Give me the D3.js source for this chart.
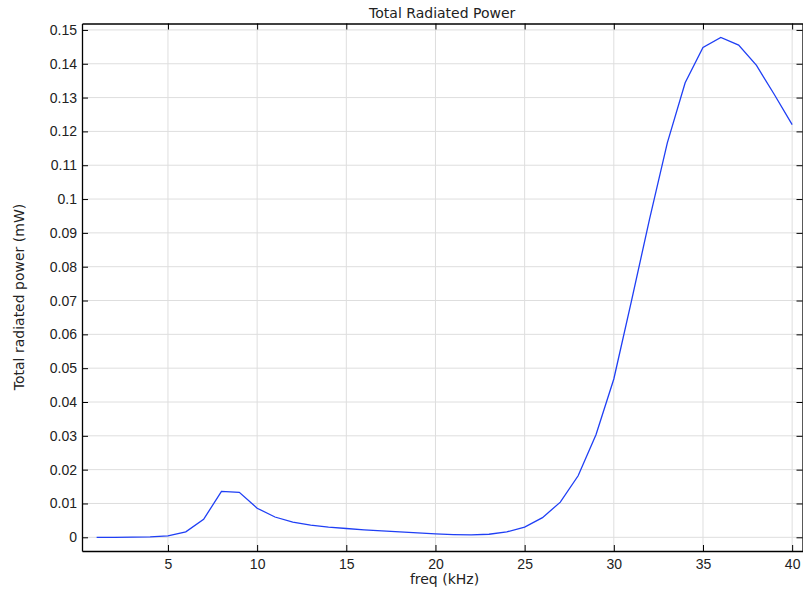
<!DOCTYPE html>
<html>
<head>
<meta charset="utf-8">
<script src="https://cdn.jsdelivr.net/npm/d3@7"></script>
<style>
	body { margin: 0; background: #fff; }
	svg { font-family: "DejaVu Sans", sans-serif; }
</style>
</head>
<body>
<div id="chart"></div>
<script>
const freq = [1, 2, 3, 4, 5, 6, 7, 8, 9, 10, 11, 12, 13, 14, 15, 16, 17, 18, 19, 20,
	21, 22, 23, 24, 25, 26, 27, 28, 29, 30, 31, 32, 33, 34, 35, 36, 37, 38, 39, 40];
const power = [0, 0, 0.00005, 0.0001, 0.0004, 0.0016, 0.0053, 0.0136, 0.0133, 0.0086,
	0.006, 0.0045, 0.0036, 0.003, 0.0026, 0.0022, 0.0019, 0.0016, 0.0013, 0.001,
	0.0008, 0.0007, 0.0009, 0.0016, 0.003, 0.0058, 0.0104, 0.0182, 0.0303, 0.0468,
	0.0701, 0.094, 0.1166, 0.1344, 0.1448, 0.1478, 0.1455, 0.1395, 0.1309, 0.122];
const xTicks = [5, 10, 15, 20, 25, 30, 35, 40];
const yTicks = [0, 0.01, 0.02, 0.03, 0.04, 0.05, 0.06, 0.07, 0.08, 0.09, 0.1,
	0.11, 0.12, 0.13, 0.14, 0.15];

let width = 803, height = 589;
let mLeft = 82, mRight = 802.5, mTop = 23.5, mBottom = 551;

let svg = d3.select('#chart')
	.append('svg')
	.attr('width', width)
	.attr('height', height);

let x = d3.scaleLinear().domain([0.18, 40.58]).range([mLeft, mRight]);
let y = d3.scaleLinear().domain([-0.00405, 0.1519]).range([mBottom, mTop]);

// grid
svg.append('g')
	.selectAll('line')
	.data(xTicks)
	.enter()
	.append('line')
	.attr('x1', d => x(d)).attr('x2', d => x(d))
	.attr('y1', mTop).attr('y2', mBottom)
	.attr('stroke', '#dedede');

svg.append('g')
	.selectAll('line')
	.data(yTicks)
	.enter()
	.append('line')
	.attr('x1', mLeft).attr('x2', mRight)
	.attr('y1', d => y(d)).attr('y2', d => y(d))
	.attr('stroke', '#dedede');

// line
let line = d3.line()
	.x((d, i) => x(freq[i]))
	.y(d => y(d));

svg.append('path')
	.datum(power)
	.attr('d', line)
	.attr('fill', 'none')
	.attr('stroke', '#1f3ff5')
	.attr('stroke-width', 1.3);

// axes with inward ticks
let fmt = d => String(+d.toFixed(2));

svg.append('g')
	.attr('transform', 'translate(0,' + mBottom + ')')
	.call(d3.axisBottom(x).tickValues(xTicks).tickSizeInner(-6).tickSizeOuter(0).tickPadding(8))
	.call(g => g.selectAll('text').attr('font-size', 14).attr('fill', '#222'));

svg.append('g')
	.attr('transform', 'translate(0,' + mTop + ')')
	.call(d3.axisTop(x).tickValues(xTicks).tickSizeInner(-6).tickSizeOuter(0).tickFormat(''));

svg.append('g')
	.attr('transform', 'translate(' + mLeft + ',0)')
	.call(d3.axisLeft(y).tickValues(yTicks).tickFormat(fmt).tickSizeInner(-6).tickSizeOuter(0).tickPadding(5))
	.call(g => g.selectAll('text').attr('font-size', 14).attr('fill', '#222'));

svg.append('g')
	.attr('transform', 'translate(' + mRight + ',0)')
	.call(d3.axisRight(y).tickValues(yTicks).tickSizeInner(-6).tickSizeOuter(0).tickFormat(''));

svg.selectAll('.domain').attr('stroke', '#000').attr('stroke-width', 1.3);
svg.selectAll('.tick line').attr('stroke', '#000');

// titles
svg.append('text')
	.attr('x', (mLeft + mRight) / 2)
	.attr('y', 18)
	.attr('text-anchor', 'middle')
	.attr('font-size', 14)
	.attr('fill', '#222')
	.text('Total Radiated Power');

svg.append('text')
	.attr('x', 444.5)
	.attr('y', 584)
	.attr('text-anchor', 'middle')
	.attr('font-size', 14)
	.attr('fill', '#222')
	.text('freq (kHz)');

svg.append('text')
	.attr('transform', 'translate(24,297) rotate(-90)')
	.attr('text-anchor', 'middle')
	.attr('font-size', 14)
	.attr('fill', '#222')
	.text('Total radiated power (mW)');
</script>
</body>
</html>
